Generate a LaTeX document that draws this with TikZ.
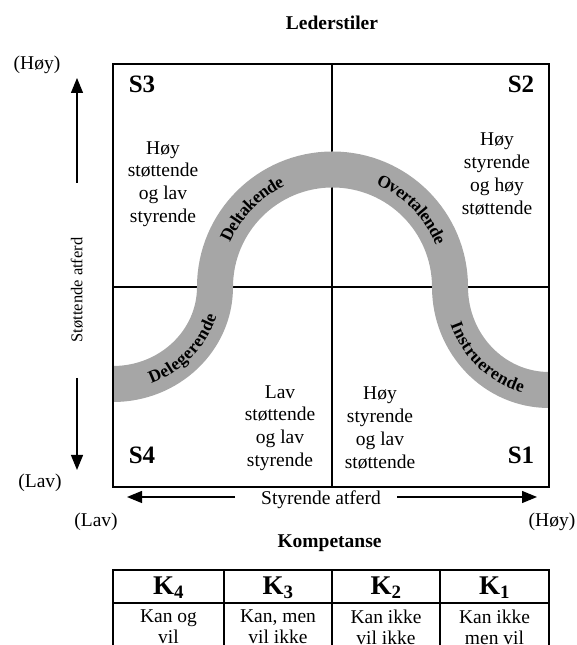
\documentclass[tikz,border=0pt]{standalone}
\usepackage{fontspec}
\setmainfont{Liberation Serif}
\usetikzlibrary{arrows.meta,decorations.text}
\begin{document}
\begin{tikzpicture}[x=1pt,y=1pt,
  body/.style={font=\fontsize{19.5}{22.7}\selectfont, align=center, inner sep=0pt},
  rowtxt/.style={font=\fontsize{19.5}{21}\selectfont, align=center, inner sep=0pt},
  vtxt/.style={font=\fontsize{16.5}{18}\selectfont, inner sep=0pt},
  slabel/.style={font=\bfseries\fontsize{25}{25}\selectfont, inner sep=0pt},
  ttl/.style={font=\bfseries\fontsize{19.5}{22}\selectfont, inner sep=0pt},
  klabel/.style={font=\bfseries\fontsize{27}{27}\selectfont, inner sep=0pt},
  axis/.style={line width=1.2pt, -{Triangle[length=15pt,width=12pt]}},
  frame/.style={line width=1.1pt},
  band/.style={line width=36pt, draw=black!35},
  curvelbl/.style={decorate, decoration={text along path, text align=center, raise=-6pt,
     text={|\bfseries\fontsize{17.5}{17.5}\selectfont|#1}}}
]
\useasboundingbox (0,0) rectangle (576,645);
\clip (0,0) rectangle (576,645);

% title
\node[ttl] (title) at (332,622) {Lederstiler};

% quadrant lines
\coordinate (bl) at (113,158);
\coordinate (tr) at (549,581);
\draw[frame] (332,158) -- (332,581);
\draw[frame] (113,358) -- (549,358);

% band
\begin{scope}
\clip (bl) rectangle (tr);
\draw[band] (100,261) -- (113,261)
  arc[start angle=270, end angle=360, x radius=102, y radius=97]
  arc[start angle=180, end angle=0, radius=117.5]
  arc[start angle=180, end angle=270, x radius=99, y radius=103]
  -- (560,255);
\end{scope}

% frame
\draw[frame] (bl) rectangle (tr);

% curved labels
\path[shift={(332.5,358)}, curvelbl=Deltakende] (176:117.5) arc[start angle=176, end angle=96, radius=117.5];
\path[shift={(332.5,358)}, curvelbl=Overtalende] (84:117.5) arc[start angle=84, end angle=5, radius=117.5];
\path[shift={(113,358)}, curvelbl=Delegerende] ({102*cos(280)},{97*sin(280)}) arc[start angle=280, end angle=355, x radius=102, y radius=97];
\path[shift={(549,358)}, curvelbl=Instruerende] ({99*cos(190)},{103*sin(190)}) arc[start angle=190, end angle=266, x radius=99, y radius=103];

% quadrant labels
\node[slabel] (s3) at (142,561) {S3};
\node[slabel] (s2) at (521,561) {S2};
\node[slabel] (s4) at (142,190) {S4};
\node[slabel] (s1) at (521,190) {S1};

\node[body] (q3) at (163,461) {Høy\\støttende\\og lav\\styrende};
\node[body] (q2) at (497,471) {Høy\\styrende\\og høy\\støttende};
\node[body] (q4) at (280,217) {Lav\\støttende\\og lav\\styrende};
\node[body] (q1) at (380,217) {Høy\\styrende\\og lav\\støttende};

% vertical axis
\node[body] (vhigh) at (37,580) {(Høy)};
\node[body] (vlow) at (40,162) {(Lav)};
\node[vtxt, rotate=90] (vlab) at (77,355) {Støttende atferd};
\coordinate (vtop) at (77,567);
\coordinate (vup) at (77,462);
\coordinate (vdn) at (77,267);
\coordinate (vbot) at (77,175);
\draw[axis] (vup) -- (vtop);
\draw[axis] (vdn) -- (vbot);

% horizontal axis
\node[body] (hlab) at (321,145) {Styrende atferd};
\coordinate (hleft) at (127,148);
\coordinate (hlin) at (235,148);
\coordinate (hrin) at (397,148);
\coordinate (hright) at (537,148);
\draw[axis] (hlin) -- (hleft);
\draw[axis] (hrin) -- (hright);
\node[body] (hlow) at (96,123) {(Lav)};
\node[body] (hhigh) at (552,123) {(Høy)};

% competence table
\node[ttl] (komp) at (329.5,102) {Kompetanse};
\draw[frame] (113,-5) -- (113,75) -- (549,75) -- (549,-5);
\draw[frame] (113,42) -- (549,42);
\draw[frame] (224,-5) -- (224,75);
\draw[frame] (332,-5) -- (332,75);
\draw[frame] (440,-5) -- (440,75);

\node[klabel] (k4) at (168.5,57) {K\textsubscript{4}};
\node[klabel] (k3) at (278,57) {K\textsubscript{3}};
\node[klabel] (k2) at (386,57) {K\textsubscript{2}};
\node[klabel] (k1) at (494.5,57) {K\textsubscript{1}};

\node[rowtxt, anchor=north] (c4) at (168.5,35) {Kan og\\vil};
\node[rowtxt, anchor=north] (c3) at (278,35) {Kan, men\\vil ikke};
\node[rowtxt, anchor=north] (c2) at (386,35) {Kan ikke\\vil ikke};
\node[rowtxt, anchor=north] (c1) at (494.5,35) {Kan ikke\\men vil};
\end{tikzpicture}
\end{document}
